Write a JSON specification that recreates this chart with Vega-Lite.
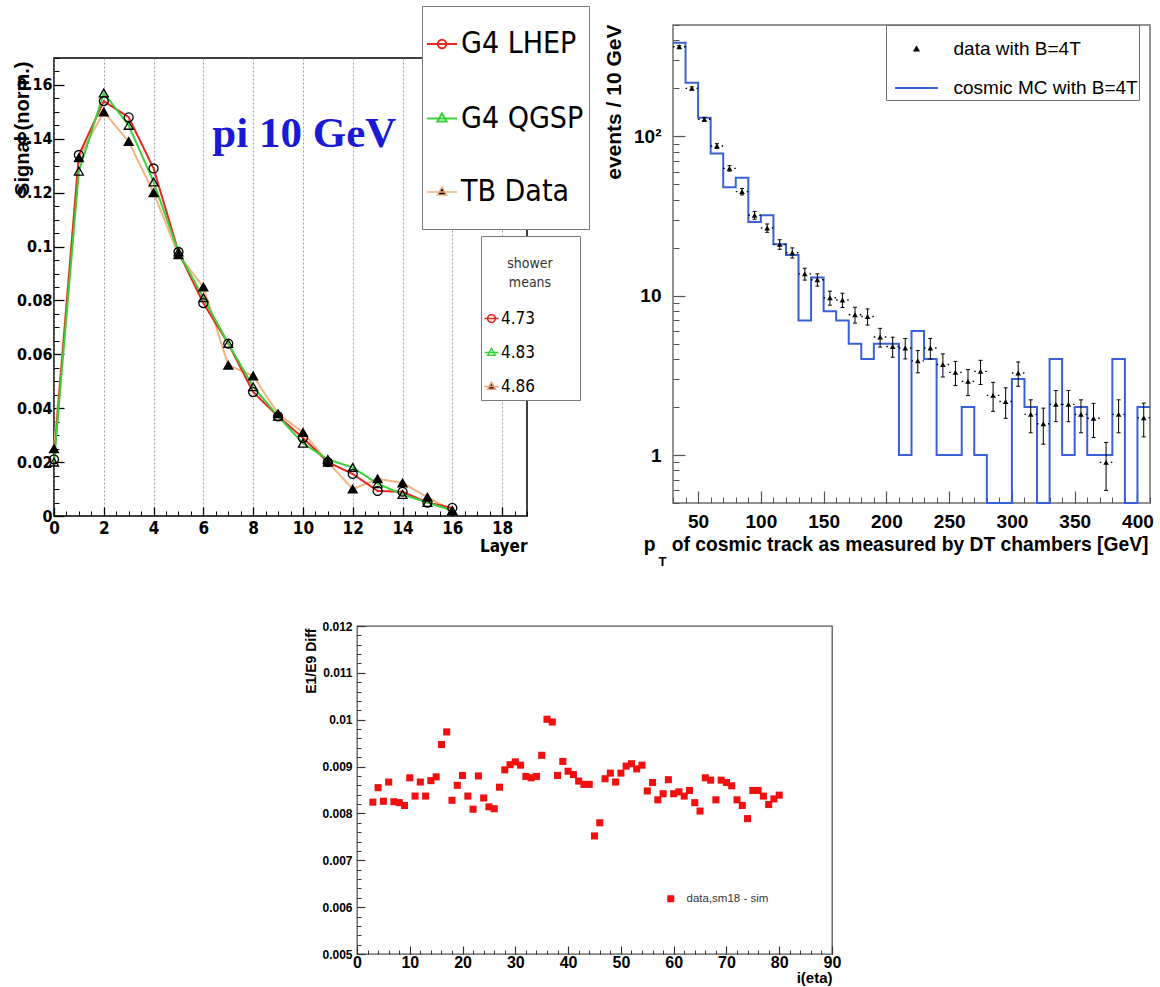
{
  "$schema": "https://vega.github.io/schema/vega-lite/v6.json",
  "padding": {"left": 11, "top": 5, "right": 0, "bottom": 0},
  "background": "#ffffff",
  "config": {"view": {"stroke": null}},
  "datasets": {
    "tl": [
      {"m":"TB Data","mean":"4.86","L":0,"s":0.025},{"m":"TB Data","mean":"4.86","L":1,"s":0.133},{"m":"TB Data","mean":"4.86","L":2,"s":0.150},{"m":"TB Data","mean":"4.86","L":3,"s":0.139},{"m":"TB Data","mean":"4.86","L":4,"s":0.120},{"m":"TB Data","mean":"4.86","L":5,"s":0.097},{"m":"TB Data","mean":"4.86","L":6,"s":0.085},{"m":"TB Data","mean":"4.86","L":7,"s":0.056},{"m":"TB Data","mean":"4.86","L":8,"s":0.052},{"m":"TB Data","mean":"4.86","L":9,"s":0.038},{"m":"TB Data","mean":"4.86","L":10,"s":0.031},{"m":"TB Data","mean":"4.86","L":11,"s":0.020},{"m":"TB Data","mean":"4.86","L":12,"s":0.010},{"m":"TB Data","mean":"4.86","L":13,"s":0.0138},{"m":"TB Data","mean":"4.86","L":14,"s":0.0123},{"m":"TB Data","mean":"4.86","L":15,"s":0.007},{"m":"TB Data","mean":"4.86","L":16,"s":0.002},
      {"m":"G4 LHEP","mean":"4.73","L":0,"s":0.021},{"m":"G4 LHEP","mean":"4.73","L":1,"s":0.134},{"m":"G4 LHEP","mean":"4.73","L":2,"s":0.154},{"m":"G4 LHEP","mean":"4.73","L":3,"s":0.148},{"m":"G4 LHEP","mean":"4.73","L":4,"s":0.129},{"m":"G4 LHEP","mean":"4.73","L":5,"s":0.098},{"m":"G4 LHEP","mean":"4.73","L":6,"s":0.079},{"m":"G4 LHEP","mean":"4.73","L":7,"s":0.064},{"m":"G4 LHEP","mean":"4.73","L":8,"s":0.046},{"m":"G4 LHEP","mean":"4.73","L":9,"s":0.037},{"m":"G4 LHEP","mean":"4.73","L":10,"s":0.029},{"m":"G4 LHEP","mean":"4.73","L":11,"s":0.020},{"m":"G4 LHEP","mean":"4.73","L":12,"s":0.0156},{"m":"G4 LHEP","mean":"4.73","L":13,"s":0.0093},{"m":"G4 LHEP","mean":"4.73","L":14,"s":0.009},{"m":"G4 LHEP","mean":"4.73","L":15,"s":0.005},{"m":"G4 LHEP","mean":"4.73","L":16,"s":0.003},
      {"m":"G4 QGSP","mean":"4.83","L":0,"s":0.020},{"m":"G4 QGSP","mean":"4.83","L":1,"s":0.128},{"m":"G4 QGSP","mean":"4.83","L":2,"s":0.157},{"m":"G4 QGSP","mean":"4.83","L":3,"s":0.145},{"m":"G4 QGSP","mean":"4.83","L":4,"s":0.124},{"m":"G4 QGSP","mean":"4.83","L":5,"s":0.098},{"m":"G4 QGSP","mean":"4.83","L":6,"s":0.081},{"m":"G4 QGSP","mean":"4.83","L":7,"s":0.064},{"m":"G4 QGSP","mean":"4.83","L":8,"s":0.048},{"m":"G4 QGSP","mean":"4.83","L":9,"s":0.037},{"m":"G4 QGSP","mean":"4.83","L":10,"s":0.027},{"m":"G4 QGSP","mean":"4.83","L":11,"s":0.021},{"m":"G4 QGSP","mean":"4.83","L":12,"s":0.018},{"m":"G4 QGSP","mean":"4.83","L":13,"s":0.012},{"m":"G4 QGSP","mean":"4.83","L":14,"s":0.008},{"m":"G4 QGSP","mean":"4.83","L":15,"s":0.005},{"m":"G4 QGSP","mean":"4.83","L":16,"s":0.002}
    ],
    "hist": [
      {"e":30,"n":387},{"e":40,"n":217},{"e":50,"n":131},{"e":60,"n":78},{"e":70,"n":48},{"e":80,"n":55},{"e":90,"n":29},{"e":100,"n":32},{"e":110,"n":21},{"e":120,"n":18},{"e":130,"n":7},{"e":140,"n":13},{"e":150,"n":8},{"e":160,"n":7},{"e":170,"n":5},{"e":180,"n":4},{"e":190,"n":5},{"e":200,"n":5},{"e":210,"n":1},{"e":220,"n":6},{"e":230,"n":4},{"e":240,"n":1},{"e":250,"n":1},{"e":260,"n":2},{"e":270,"n":1},{"e":280,"n":0.5},{"e":290,"n":0.5},{"e":300,"n":3},{"e":310,"n":2},{"e":320,"n":0.5},{"e":330,"n":4},{"e":340,"n":1},{"e":350,"n":2},{"e":360,"n":1},{"e":370,"n":1},{"e":380,"n":4},{"e":390,"n":0.5},{"e":400,"n":2},{"e":410,"n":2}
    ],
    "pts": [
      {"x":35,"v":365,"lo":359,"hi":371,"x0":30,"x1":40},
      {"x":45,"v":200,"lo":195.5,"hi":204.5,"x0":40,"x1":50},
      {"x":55,"v":128,"lo":124.4,"hi":131.6,"x0":50,"x1":60},
      {"x":65,"v":87,"lo":84,"hi":90,"x0":60,"x1":70},
      {"x":75,"v":63,"lo":60.5,"hi":65.5,"x0":70,"x1":80},
      {"x":85,"v":45,"lo":42.9,"hi":47.1,"x0":80,"x1":90},
      {"x":95,"v":32,"lo":30.2,"hi":33.8,"x0":90,"x1":100},
      {"x":105,"v":26.6,"lo":25,"hi":28.2,"x0":100,"x1":110},
      {"x":115,"v":21,"lo":19.55,"hi":22.45,"x0":110,"x1":120},
      {"x":125,"v":18.6,"lo":17.24,"hi":19.96,"x0":120,"x1":130},
      {"x":135,"v":13.7,"lo":12.53,"hi":14.87,"x0":130,"x1":140},
      {"x":145,"v":12.6,"lo":11.48,"hi":13.72,"x0":140,"x1":150},
      {"x":155,"v":9.7,"lo":8.72,"hi":10.68,"x0":150,"x1":160},
      {"x":165,"v":9.4,"lo":8.43,"hi":10.37,"x0":160,"x1":170},
      {"x":175,"v":7.6,"lo":6.73,"hi":8.47,"x0":170,"x1":180},
      {"x":185,"v":7.4,"lo":6.54,"hi":8.26,"x0":180,"x1":190},
      {"x":195,"v":5.5,"lo":4.76,"hi":6.24,"x0":190,"x1":200},
      {"x":205,"v":4.8,"lo":4.11,"hi":5.49,"x0":200,"x1":210},
      {"x":215,"v":4.7,"lo":4.01,"hi":5.39,"x0":210,"x1":220},
      {"x":225,"v":3.9,"lo":3.28,"hi":4.52,"x0":220,"x1":230},
      {"x":235,"v":4.7,"lo":4.01,"hi":5.39,"x0":230,"x1":240},
      {"x":245,"v":3.7,"lo":3.09,"hi":4.31,"x0":240,"x1":250},
      {"x":255,"v":3.3,"lo":2.73,"hi":3.87,"x0":250,"x1":260},
      {"x":265,"v":2.9,"lo":2.36,"hi":3.44,"x0":260,"x1":270},
      {"x":275,"v":3.35,"lo":2.77,"hi":3.93,"x0":270,"x1":280},
      {"x":285,"v":2.37,"lo":1.88,"hi":2.86,"x0":280,"x1":290},
      {"x":295,"v":2.17,"lo":1.7,"hi":2.64,"x0":290,"x1":300},
      {"x":305,"v":3.27,"lo":2.7,"hi":3.84,"x0":300,"x1":310},
      {"x":315,"v":1.8,"lo":1.38,"hi":2.22,"x0":310,"x1":320},
      {"x":325,"v":1.57,"lo":1.17,"hi":1.97,"x0":320,"x1":330},
      {"x":335,"v":2.08,"lo":1.62,"hi":2.54,"x0":330,"x1":340},
      {"x":345,"v":2.08,"lo":1.62,"hi":2.54,"x0":340,"x1":350},
      {"x":355,"v":1.8,"lo":1.38,"hi":2.22,"x0":350,"x1":360},
      {"x":365,"v":1.7,"lo":1.29,"hi":2.11,"x0":360,"x1":370},
      {"x":375,"v":0.9,"lo":0.6,"hi":1.2,"x0":370,"x1":380},
      {"x":385,"v":1.8,"lo":1.38,"hi":2.22,"x0":380,"x1":390},
      {"x":405,"v":1.71,"lo":1.3,"hi":2.12,"x0":400,"x1":410}
    ],
    "bot": [
      {"i":3,"v":0.00824},{"i":4,"v":0.00855},{"i":5,"v":0.00826},{"i":6,"v":0.00867},{"i":7,"v":0.00825},{"i":8,"v":0.00823},{"i":9,"v":0.00817},{"i":10,"v":0.00876},{"i":11,"v":0.00837},{"i":12,"v":0.00867},{"i":13,"v":0.00837},{"i":14,"v":0.0087},{"i":15,"v":0.00878},{"i":16,"v":0.00947},{"i":17,"v":0.00974},{"i":18,"v":0.00828},{"i":19,"v":0.0086},{"i":20,"v":0.00881},{"i":21,"v":0.00837},{"i":22,"v":0.00809},{"i":23,"v":0.0088},{"i":24,"v":0.00833},{"i":25,"v":0.00814},{"i":26,"v":0.0081},{"i":27,"v":0.00856},{"i":28,"v":0.00893},{"i":29,"v":0.00904},{"i":30,"v":0.0091},{"i":31,"v":0.00903},{"i":32,"v":0.00879},{"i":33,"v":0.00876},{"i":34,"v":0.00879},{"i":35,"v":0.00924},{"i":36,"v":0.01001},{"i":37,"v":0.00995},{"i":38,"v":0.00881},{"i":39,"v":0.00911},{"i":40,"v":0.0089},{"i":41,"v":0.00883},{"i":42,"v":0.00869},{"i":43,"v":0.00862},{"i":44,"v":0.00862},{"i":45,"v":0.00752},{"i":46,"v":0.0078},{"i":47,"v":0.00874},{"i":48,"v":0.00886},{"i":49,"v":0.00867},{"i":50,"v":0.00886},{"i":51,"v":0.00901},{"i":52,"v":0.00906},{"i":53,"v":0.00895},{"i":54,"v":0.00903},{"i":55,"v":0.00848},{"i":56,"v":0.00866},{"i":57,"v":0.00829},{"i":58,"v":0.00842},{"i":59,"v":0.00872},{"i":60,"v":0.00842},{"i":61,"v":0.00846},{"i":62,"v":0.00837},{"i":63,"v":0.00849},{"i":64,"v":0.00823},{"i":65,"v":0.00805},{"i":66,"v":0.00876},{"i":67,"v":0.00871},{"i":68,"v":0.00829},{"i":69,"v":0.00871},{"i":70,"v":0.00866},{"i":71,"v":0.00859},{"i":72,"v":0.00829},{"i":73,"v":0.00817},{"i":74,"v":0.00789},{"i":75,"v":0.00849},{"i":76,"v":0.00849},{"i":77,"v":0.00837},{"i":78,"v":0.00819},{"i":79,"v":0.00831},{"i":80,"v":0.00839}
    ]
  },
  "spacing": 50,
  "resolve": {
    "scale": {"color": "independent", "shape": "independent", "fill": "independent", "strokeDash": "independent"},
    "legend": {"color": "independent", "shape": "independent", "fill": "independent", "strokeDash": "independent"}
  },
  "vconcat": [
    {
      "spacing": 12,
      "resolve": {
        "scale": {"color": "independent", "shape": "independent", "fill": "independent", "strokeDash": "independent"},
        "legend": {"color": "independent", "shape": "independent", "fill": "independent", "strokeDash": "independent"}
      },
      "hconcat": [
        {
          "spacing": 0,
          "bounds": "flush",
          "vconcat": [
            {"width": 473, "height": 33, "data": {"values": [{}]}, "mark": {"type": "point", "opacity": 0}, "encoding": {}},
            {
              "width": 473, "height": 458,
              "view": {"stroke": "#000000", "strokeWidth": 1.5},
              "data": {"name": "tl"},
              "layer": [
                {
                  "mark": {"type": "line", "strokeWidth": 2},
                  "encoding": {
                    "x": {"field": "L", "type": "quantitative", "scale": {"domain": [0, 19], "nice": false, "zero": false},
                      "axis": {"orient": "bottom", "values": [0,2,4,6,8,10,12,14,16,18], "format": "d", "tickSize": -9, "tickWidth": 1.3, "tickColor": "#000000", "labelPadding": 13, "labelFont": "DejaVu Sans Condensed, Liberation Sans", "labelFontSize": 17, "labelFontWeight": "bold", "labelColor": "#000000", "labelFlush": false, "labelOverlap": false, "domain": false, "grid": true, "gridDash": [2, 2], "gridColor": "#8a8a8a", "gridWidth": 0.8,
                        "title": "Layer", "titleFont": "DejaVu Sans Condensed, Liberation Sans", "titleFontSize": 17, "titleFontWeight": "bold", "titleColor": "#000000", "titleAlign": "right", "titleAnchor": "end", "titleBaseline": "alphabetic", "titleX": 473, "titleY": 35}},
                    "y": {"field": "s", "type": "quantitative", "scale": {"domain": [0, 0.17], "nice": false},
                      "axis": {"orient": "left", "values": [0,0.02,0.04,0.06,0.08,0.1,0.12,0.14,0.16], "format": "~g", "tickSize": -10, "tickWidth": 1.3, "tickColor": "#000000", "labelPadding": 12, "labelFont": "DejaVu Sans Condensed, Liberation Sans", "labelFontSize": 16, "labelFontWeight": "bold", "labelColor": "#000000", "labelFlush": false, "labelOverlap": false, "domain": false, "grid": false,
                        "title": "Signal (norm.)", "titleFont": "Liberation Sans", "titleFontSize": 20, "titleFontWeight": "bold", "titleColor": "#000000", "titleAngle": -90, "titleAlign": "right", "titleAnchor": "end", "titleBaseline": "bottom", "titleX": -22, "titleY": 3}},
                    "color": {"field": "m", "type": "nominal", "scale": {"domain": ["G4 LHEP", "G4 QGSP", "TB Data"], "range": ["#e8251f", "#3ad13a", "#f2b483"]},
                      "legend": {"title": " ", "titleFontSize": 10, "titlePadding": 8, "orient": "none", "legendX": 368, "legendY": -19, "direction": "vertical", "fillColor": "#ffffff", "strokeColor": "#7a7a7a", "padding": 5, "symbolSize": 900, "symbolStrokeWidth": 2, "labelFont": "DejaVu Sans Condensed, Liberation Sans", "labelFontSize": 30, "labelColor": "#000000", "labelOffset": 4, "labelLimit": 300, "rowPadding": 7.5,
                        "encode": {"symbols": {"update": {
                          "shape": {"signal": "datum.value === 'G4 LHEP' ? 'M-1,0L1,0M0.28,0A0.28,0.28,0,1,1,-0.28,0A0.28,0.28,0,1,1,0.28,0M0,-2L0,-2M0,1.93L0,1.93' : 'M-1,0L1,0M0,-0.34L0.31,0.2L-0.31,0.2ZM0,-2L0,-2M0,1.93L0,1.93'"},
                          "fill": {"signal": "datum.value === 'TB Data' ? '#000000' : 'transparent'"},
                          "strokeWidth": {"signal": "datum.value === 'TB Data' ? 1.5 : 2"}
                        }}}}},
                    "strokeDash": {"field": "mean", "type": "nominal", "scale": {"domain": ["4.73", "4.83", "4.86"], "range": [[1, 0], [1, 0], [1, 0]]},
                      "legend": {"title": ["", "shower", "means"], "orient": "none", "legendX": 427, "legendY": 211, "fillColor": "#ffffff", "strokeColor": "#7a7a7a", "padding": 2, "titleFont": "DejaVu Sans Condensed, Liberation Sans", "titleFontSize": 14, "titleFontWeight": "normal", "titleColor": "#333333", "titleLineHeight": 19, "titleAlign": "center", "titleAnchor": "middle", "titlePadding": 20, "symbolSize": 196, "symbolStrokeWidth": 1.5, "labelFont": "DejaVu Sans Condensed, Liberation Sans", "labelFontSize": 17, "labelColor": "#000000", "labelOffset": 1, "rowPadding": 11,
                        "encode": {"symbols": {"update": {
                          "shape": {"signal": "datum.value === '4.73' ? 'M-1,0L1,0M0.55,0A0.55,0.55,0,1,1,-0.55,0A0.55,0.55,0,1,1,0.55,0M0,-1.14L0,-1.14M0,1.14L0,1.14M11.85,0L11.85,0' : 'M-1,0L1,0M0,-0.6L0.55,0.4L-0.55,0.4ZM0,-1.14L0,-1.14M0,1.14L0,1.14M11.85,0L11.85,0'"},
                          "fill": {"signal": "datum.value === '4.86' ? '#000000' : 'transparent'"},
                          "stroke": {"signal": "datum.value === '4.73' ? '#e8251f' : datum.value === '4.83' ? '#3ad13a' : '#e8a070'"}
                        }}}}}
                  }
                },
                {
                  "mark": {"type": "point", "size": 80, "strokeWidth": 1.3, "opacity": 1},
                  "encoding": {
                    "x": {"field": "L", "type": "quantitative",
                      "axis": {"orient": "bottom", "values": [0,0.5,1,1.5,2,2.5,3,3.5,4,4.5,5,5.5,6,6.5,7,7.5,8,8.5,9,9.5,10,10.5,11,11.5,12,12.5,13,13.5,14,14.5,15,15.5,16,16.5,17,17.5,18,18.5,19], "tickSize": -5, "tickColor": "#000000", "labels": false, "domain": false, "grid": false, "title": null}},
                    "y": {"field": "s", "type": "quantitative",
                      "axis": {"orient": "left", "values": [0,0.005,0.01,0.015,0.02,0.025,0.03,0.035,0.04,0.045,0.05,0.055,0.06,0.065,0.07,0.075,0.08,0.085,0.09,0.095,0.1,0.105,0.11,0.115,0.12,0.125,0.13,0.135,0.14,0.145,0.15,0.155,0.16,0.165,0.17], "tickSize": -5, "tickColor": "#000000", "labels": false, "domain": false, "grid": false, "title": null}},
                    "shape": {"field": "m", "type": "nominal", "scale": {"domain": ["TB Data", "G4 LHEP", "G4 QGSP"], "range": ["triangle-up", "circle", "triangle-up"]}, "legend": null},
                    "fill": {"field": "m", "type": "nominal", "scale": {"domain": ["G4 QGSP", "TB Data", "G4 LHEP"], "range": ["transparent", "#000000", "transparent"]}, "legend": null},
                    "stroke": {"value": "#000000"}
                  }
                },
                {
                  "data": {"values": [{}]},
                  "mark": {"type": "text", "text": "pi 10 GeV", "font": "Liberation Serif", "fontSize": 43, "fontWeight": "bold", "color": "#1a1ad6", "align": "left", "baseline": "alphabetic"},
                  "encoding": {"x": {"datum": 6.36, "type": "quantitative", "axis": null}, "y": {"datum": 0.137, "type": "quantitative", "axis": null}}
                }
              ],
              "resolve": {"axis": {"x": "independent", "y": "independent"}}
            }
          ]
        },
        {
          "width": 477, "height": 478,
          "view": {"stroke": "#6e6e6e", "strokeWidth": 1.5},
          "layer": [
            {
              "data": {"name": "hist"},
              "mark": {"type": "line", "interpolate": "step-after", "strokeWidth": 2},
              "encoding": {
                "x": {"field": "e", "type": "quantitative", "scale": {"domain": [30, 410], "nice": false, "zero": false},
                  "axis": {"orient": "bottom", "values": [50,100,150,200,250,300,350,400], "format": "d", "tickSize": -12, "tickWidth": 1.2, "tickColor": "#555555", "labelPadding": 21, "labelFont": "Liberation Sans", "labelFontSize": 19, "labelFontWeight": "bold", "labelColor": "#000000", "labelFlush": false, "labelOverlap": false, "domain": false, "grid": false,
                    "title": "p\u00a0\u00a0\u00a0of cosmic track as measured by DT chambers [GeV]", "titleFont": "Liberation Sans", "titleFontSize": 19.3, "titleFontWeight": "bold", "titleColor": "#000000", "titleAlign": "right", "titleAnchor": "end", "titleBaseline": "alphabetic", "titleX": 475, "titleY": 47}},
                "y": {"field": "n", "type": "quantitative", "scale": {"type": "log", "domain": [0.5, 500], "nice": false},
                  "axis": {"orient": "left", "values": [1, 10, 100], "tickSize": -12, "tickWidth": 1.2, "tickColor": "#555555", "labelPadding": 24, "labelFont": "Liberation Sans", "labelFontSize": 19, "labelFontWeight": "bold", "labelColor": "#000000", "labelExpr": "datum.value == 100 ? '10²' : datum.value == 10 ? '10' : '1'", "labelFlush": false, "labelOverlap": false, "domain": false, "grid": false,
                    "title": "events / 10 GeV", "titleFont": "Liberation Sans", "titleFontSize": 21, "titleFontWeight": "bold", "titleColor": "#000000", "titleAngle": -90, "titleAlign": "right", "titleAnchor": "end", "titleBaseline": "bottom", "titleX": -49, "titleY": -1}},
                "color": {"datum": "cosmic MC with B=4T", "type": "nominal", "scale": {"domain": ["data with B=4T", "cosmic MC with B=4T"], "range": ["#000000", "#3a60d8"]},
                  "legend": {"title": " ", "titleFontSize": 10, "titlePadding": 4, "orient": "none", "legendX": 213, "legendY": 0, "fillColor": "#ffffff", "strokeColor": "#6e6e6e", "padding": 0.5, "symbolSize": 1849, "symbolStrokeWidth": 2, "symbolOffset": 20.5, "labelFont": "Liberation Sans", "labelFontSize": 19, "labelColor": "#000000", "labelOffset": 27.5, "labelLimit": 300, "rowPadding": 17,
                    "encode": {"symbols": {"update": {
                      "shape": {"signal": "datum.value === 'data with B=4T' ? 'M0,-0.15L0.14,0.1L-0.14,0.1ZM10.05,0L10.05,0M0,-0.326L0,-0.326M0,0.326L0,0.326' : 'M-1,0L1,0M10.05,0L10.05,0M0,-0.326L0,-0.326M0,0.326L0,0.326'"},
                      "strokeWidth": {"signal": "datum.value === 'data with B=4T' ? 0.6 : 2"}
                    }}}}}
              }
            },
            {
              "data": {"name": "pts"},
              "mark": {"type": "rule", "color": "#000000", "strokeWidth": 1},
              "encoding": {"x": {"field": "x", "type": "quantitative", "axis": null}, "y": {"field": "lo", "type": "quantitative", "axis": null}, "y2": {"field": "hi"}}
            },
            {
              "data": {"name": "pts"},
              "mark": {"type": "tick", "orient": "horizontal", "size": 4, "thickness": 1, "color": "#000000", "opacity": 1},
              "encoding": {"x": {"field": "x", "type": "quantitative", "axis": null}, "y": {"field": "lo", "type": "quantitative", "axis": null}}
            },
            {
              "data": {"name": "pts"},
              "mark": {"type": "tick", "orient": "horizontal", "size": 4, "thickness": 1, "color": "#000000", "opacity": 1},
              "encoding": {"x": {"field": "x", "type": "quantitative", "axis": null}, "y": {"field": "hi", "type": "quantitative", "axis": null}}
            },
            {
              "data": {"name": "pts"},
              "mark": {"type": "rule", "color": "#000000", "strokeWidth": 1.4, "strokeDash": [1.5, 9.5]},
              "encoding": {"x": {"field": "x0", "type": "quantitative", "axis": null}, "x2": {"field": "x1"}, "y": {"field": "v", "type": "quantitative", "axis": null}}
            },
            {
              "data": {"name": "pts"},
              "mark": {"type": "point", "shape": "triangle-up", "filled": true, "size": 32, "opacity": 1},
              "encoding": {
                "x": {"field": "x", "type": "quantitative",
                  "axis": {"orient": "bottom", "values": [30,40,50,60,70,80,90,100,110,120,130,140,150,160,170,180,190,200,210,220,230,240,250,260,270,280,290,300,310,320,330,340,350,360,370,380,390,400,410], "tickSize": -6, "tickColor": "#555555", "labels": false, "domain": false, "grid": false,
                    "title": "T", "titleFont": "Liberation Sans", "titleFontSize": 13, "titleFontWeight": "bold", "titleColor": "#000000", "titleAlign": "left", "titleAnchor": "start", "titleBaseline": "alphabetic", "titleX": -15, "titleY": 62}},
                "y": {"field": "v", "type": "quantitative",
                  "axis": {"orient": "left", "values": [0.5,0.6,0.7,0.8,0.9,2,3,4,5,6,7,8,9,20,30,40,50,60,70,80,90,200,300,400,500], "tickSize": -6, "tickColor": "#555555", "labels": false, "domain": false, "grid": false, "title": null}},
                "color": {"datum": "data with B=4T", "type": "nominal"}
              }
            }
          ],
          "resolve": {"axis": {"x": "independent", "y": "independent"}}
        }
      ]
    },
    {
      "spacing": 0,
      "hconcat": [
        {"width": 249, "height": 1, "data": {"values": [{}]}, "mark": {"type": "point", "opacity": 0}, "encoding": {}},
        {
          "width": 475, "height": 328,
          "view": {"stroke": "#555555", "strokeWidth": 1.3},
          "data": {"name": "bot"},
          "layer": [
            {
              "mark": {"type": "square", "size": 50, "opacity": 1},
              "encoding": {
                "x": {"field": "i", "type": "quantitative", "scale": {"domain": [0, 90], "nice": false, "zero": false},
                  "axis": {"orient": "bottom", "values": [0,10,20,30,40,50,60,70,80,90], "format": "d", "tickSize": -8, "tickWidth": 1.2, "tickColor": "#333333", "labelPadding": 8, "labelFont": "Liberation Sans", "labelFontSize": 16, "labelFontWeight": "bold", "labelColor": "#000000", "labelFlush": false, "labelOverlap": false, "domain": false, "grid": false,
                    "title": "i(eta)", "titleFont": "Liberation Sans", "titleFontSize": 15, "titleFontWeight": "bold", "titleColor": "#000000", "titleAlign": "right", "titleAnchor": "end", "titleBaseline": "alphabetic", "titleX": 475, "titleY": 28}},
                "y": {"field": "v", "type": "quantitative", "scale": {"domain": [0.005, 0.012], "nice": false, "zero": false},
                  "axis": {"orient": "left", "values": [0.005,0.006,0.007,0.008,0.009,0.01,0.011,0.012], "format": "~g", "tickSize": -8, "tickWidth": 1.2, "tickColor": "#333333", "labelPadding": 13, "labelFont": "Liberation Sans", "labelFontSize": 12, "labelFontWeight": "bold", "labelColor": "#000000", "labelFlush": false, "labelOverlap": false, "domain": false, "grid": false,
                    "title": "E1/E9 Diff", "titleFont": "Liberation Sans", "titleFontSize": 14, "titleFontWeight": "bold", "titleColor": "#000000", "titleAngle": -90, "titleAlign": "right", "titleAnchor": "end", "titleBaseline": "bottom", "titleX": -39, "titleY": 2}},
                "color": {"datum": "data,sm18 - sim", "type": "nominal", "scale": {"range": ["#f01010"]},
                  "legend": {"title": null, "orient": "none", "legendX": 611, "legendY": 267, "symbolType": "square", "symbolSize": 49, "symbolStrokeWidth": 0, "labelFont": "Liberation Sans", "labelFontSize": 11.5, "labelColor": "#333333", "labelOffset": 10, "padding": 0}}
              }
            },
            {
              "mark": {"type": "point", "opacity": 0},
              "encoding": {
                "x": {"field": "i", "type": "quantitative",
                  "axis": {"orient": "bottom", "values": [0,2,4,6,8,10,12,14,16,18,20,22,24,26,28,30,32,34,36,38,40,42,44,46,48,50,52,54,56,58,60,62,64,66,68,70,72,74,76,78,80,82,84,86,88,90], "tickSize": -4, "tickColor": "#333333", "labels": false, "domain": false, "grid": false, "title": null}},
                "y": {"field": "v", "type": "quantitative",
                  "axis": {"orient": "left", "values": [0.005,0.0052,0.0054,0.0056,0.0058,0.006,0.0062,0.0064,0.0066,0.0068,0.007,0.0072,0.0074,0.0076,0.0078,0.008,0.0082,0.0084,0.0086,0.0088,0.009,0.0092,0.0094,0.0096,0.0098,0.01,0.0102,0.0104,0.0106,0.0108,0.011,0.0112,0.0114,0.0116,0.0118,0.012], "tickSize": -4, "tickColor": "#333333", "labels": false, "domain": false, "grid": false, "title": null}}
              }
            }
          ],
          "resolve": {"axis": {"x": "independent", "y": "independent"}}
        }
      ]
    }
  ]
}
